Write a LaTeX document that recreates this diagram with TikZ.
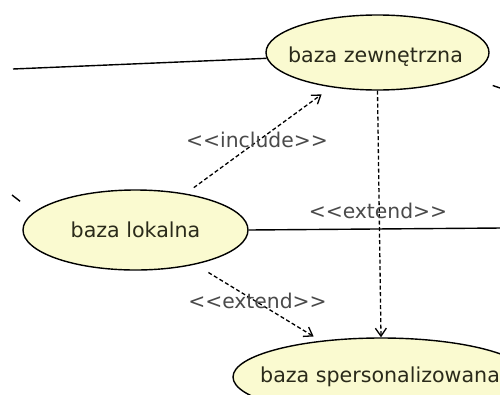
\documentclass[tikz,border=0pt]{standalone}
\usepackage{fontspec}
\setmainfont{DejaVu Sans}
\usetikzlibrary{shapes.geometric,arrows.meta}

\definecolor{ucfill}{HTML}{FAFAD0}
\definecolor{uctext}{HTML}{2A2A1A}
\definecolor{stereo}{HTML}{4A4A4A}

\tikzset{
  usecase/.style={ellipse, draw=black, line width=1.4pt, fill=ucfill, inner sep=0pt},
  ucname/.style={anchor=base, inner sep=0pt, text=uctext, font=\fontsize{20.6}{24}\selectfont},
  stereotype/.style={anchor=base, inner sep=0pt, text=stereo, font=\fontsize{20.3}{24}\selectfont},
  assoc/.style={draw=black, line width=1.4pt},
  depend/.style={draw=black, line width=1.3pt, dash pattern=on 4pt off 2.5pt,
                 -{Straight Barb[length=8pt,width=11pt,line width=1.3pt]}},
}

\begin{document}
\begin{tikzpicture}[x=1pt, y=-1pt]
  \useasboundingbox (0,0) rectangle (500,394);
  \clip (0,0) rectangle (500,394);
  \fill[white] (0,0) rectangle (500,394);

  % use cases
  \node[usecase, minimum width=223pt, minimum height=75pt] (zew) at (377.5,52.5) {};
  \node[usecase, minimum width=225pt, minimum height=80pt] (lok) at (135.5,230) {};
  \node[usecase, minimum width=296pt, minimum height=78pt] (sp)  at (381,377) {};

  \node[ucname] (zewT) at (375.5,62) {baza zewnętrzna};
  \node[ucname] (lokT) at (135.5,237) {baza lokalna};
  \node[ucname, anchor=base west] (spT) at (260,382) {baza spersonalizowana};

  % free ends of associations leaving the picture
  \coordinate (actA) at (13,69);
  \coordinate (actB) at (12,195);
  \coordinate (actC) at (502,228);
  \coordinate (actD) at (502,88.7);

  % associations
  \draw[assoc] (actA) -- (zew.183);
  \draw[assoc, shorten >=17.5pt] (actB) -- (lok.170.6);
  \draw[assoc] (lok.east) -- (actC);
  \draw[assoc, shorten <=28.6pt] (zew.-15) -- (actD);

  % dependencies
  \draw[depend, shorten <=10pt, shorten >=12pt] (lok.36) -- (zew.217.3);
  \draw[depend, shorten <=15.3pt, shorten >=8.2pt] (lok.-30.4) -- (sp.149.2);
  \draw[depend] (zew.south) -- (sp.north);

  % stereotypes (braces keep << and >> from turning into guillemets)
  \node[stereotype] (incL) at (257,147) {{<}{<}include{>}{>}};
  \node[stereotype] (extA) at (378,218) {{<}{<}extend{>}{>}};
  \node[stereotype] (extB) at (257.5,308) {{<}{<}extend{>}{>}};
\end{tikzpicture}
\end{document}
